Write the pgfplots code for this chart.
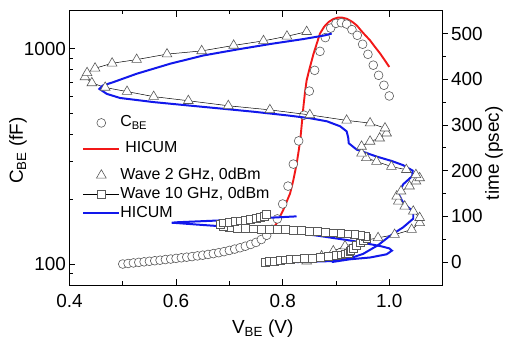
\documentclass[border=0pt]{standalone}
\usepackage{fontspec}
\setmainfont{Liberation Sans}
\usepackage{pgfplots}
\pgfplotsset{compat=1.18}

\definecolor{hicumred}{RGB}{242,24,24}
\definecolor{hicumblue}{RGB}{18,24,235}
\definecolor{markgray}{RGB}{90,90,90}

\pgfplotsset{
  leg line/.style={legend image code/.code={%
      \draw[mark repeat=2,mark phase=2,##1] plot coordinates {(0bp,0bp) (18bp,0bp) (36bp,0bp)};}},
  leg mark/.style={legend image code/.code={%
      \draw[##1] plot coordinates {(18bp,0bp)};}},
  common/.style={
    scale only axis, width=373.2bp, height=274.3bp,
    xmin=0.4, xmax=1.1,
    tick label style={font=\fontsize{19}{22}\selectfont},
    label style={font=\fontsize{19}{22}\selectfont},
    /pgf/number format/assume math mode=true,
    axis line style={line width=0.8bp},
    every tick/.style={black, line width=0.8bp},
    major tick length=6bp, minor tick length=3.5bp,
    legend cell align=left,
  },
  wavemark/.style={mark options={draw=markgray, fill=white, line width=0.6bp, solid}},
  cbemark/.style={mark=*, mark size=4.4bp, mark options={draw=markgray, fill=white, line width=0.6bp}},
  trimark/.style={mark=triangle*, mark size=5.6bp, wavemark},
  sqmark/.style={mark=square*, mark size=3.9bp, wavemark},
}

\begin{document}
\begin{tikzpicture}
% capacitance versus bias, log scale on the left
\begin{axis}[common,
  ymode=log, ymin=80, ymax=1500,
  axis y line*=left,
  xtick={0.4,0.6,0.8,1.0}, xticklabels={0.4,0.6,0.8,1.0},
  minor x tick num=1,
  ytick={100,1000}, yticklabels={100,1000},
  minor ytick={90,200,300,400,500,600,700,800,900},
  xticklabel style={yshift=-6bp},
  xlabel={V\textsubscript{BE} (V)},
  ylabel={C\textsubscript{BE} (fF)},
  xlabel style={at={(axis description cs:0.518,-0.178)}, anchor=base},
  ylabel style={at={(axis description cs:-0.138,0.49)}, anchor=center},
  legend style={draw=none, fill=none, at={(0.026,0.628)}, anchor=north west,
    font=\fontsize{16}{19}\selectfont, row sep=10bp,
    nodes={inner sep=0bp, text height=12bp, text depth=4bp}},
  /tikz/every even column/.style={column sep=4bp},
]
\coordinate (bl) at (rel axis cs:0,0);
\coordinate (tr) at (rel axis cs:1,1);

\addlegendimage{only marks, cbemark, leg mark}
\addlegendentry{C\textsubscript{BE}}
\addlegendimage{hicumred, line width=1.9bp, leg line}
\addlegendentry{\hspace{5bp}HICUM}

\addplot[forget plot, only marks, cbemark] table {
V C
0.50 100
0.51 100.6
0.52 101.2
0.53 101.8
0.54 102.4
0.55 103.0
0.56 103.6
0.57 104.2
0.58 104.9
0.59 105.5
0.60 106.2
0.61 106.9
0.62 107.6
0.63 108.3
0.64 109.1
0.65 109.9
0.66 110.8
0.67 111.8
0.68 112.9
0.69 114.2
0.70 115.7
0.71 117.3
0.72 119.0
0.73 121.0
0.74 123.3
0.75 126.0
0.76 130.0
0.77 136.0
0.78 145.0
0.79 162.0
0.80 190
0.81 230
0.82 291
0.83 373
0.84 491
0.85 635
0.86 793
0.87 971
0.88 1125
0.89 1245
0.90 1310
0.91 1320
0.92 1300
0.93 1225
0.94 1153
0.95 1048
0.96 941
0.97 838
0.98 752
0.99 676
1.00 603
};

\addplot[forget plot, hicumred, line width=1.9bp] table {
V C
0.500 100.5
0.550 102.3
0.600 105
0.650 108
0.700 113
0.726 118
0.740 121.5
0.758 127
0.768 133
0.776 139
0.789 155
0.801 178
0.814 213
0.820 245
0.826 290
0.830 335
0.833 376
0.836 450
0.839 540
0.842 630
0.845 713
0.850 800
0.858 948
0.870 1175
0.878 1265
0.886 1328
0.895 1372
0.904 1394
0.912 1392
0.920 1377
0.930 1335
0.939 1282
0.950 1190
0.964 1092
0.973 1020
0.983 948
0.992 880
1.000 822
};
\end{axis}

% large-signal waveforms against time on the right
\begin{axis}[common,
  axis x line=none, axis y line*=right,
  ymin=-50, ymax=550,
  ytick={0,100,200,300,400,500}, yticklabels={0,100,200,300,400,500},
  minor y tick num=1,
  tick align=outside,
  major tick length=5bp, minor tick length=3bp,
  ylabel={time (psec)},
  ylabel style={at={(axis description cs:1.1375,0.48)}, anchor=center},
  legend style={draw=none, fill=none, at={(0.026,0.437)}, anchor=north west,
    font=\fontsize{16}{19}\selectfont, row sep=3bp,
    nodes={inner sep=0bp, text height=12bp, text depth=4bp}},
  /tikz/every even column/.style={column sep=4bp},
]
\addlegendimage{only marks, trimark, leg mark}
\addlegendentry{Wave 2 GHz, 0dBm}
\addlegendimage{black, line width=0.5bp, sqmark, leg line}
\addlegendentry{Wave 10 GHz, 0dBm}
\addlegendimage{hicumblue, line width=2bp, leg line}
\addlegendentry{HICUM}

% 2 GHz measured waveform
\addplot[forget plot, black, line width=0.5bp, trimark] table {
V t
0.845 2
0.873 13
0.895 24
0.917 35
0.948 46
0.979 53
1.010 60
1.042 71
1.057 86
1.057 97
1.045 111
1.029 122
1.017 133
1.014 144
1.022 155
1.038 166
1.050 177
1.057 184
1.050 191
1.032 202
1.004 209
0.976 220
0.957 228
0.948 238
0.948 253
0.964 264
0.982 271
0.995 282
0.992 293
0.964 304
0.920 310
0.851 322
0.776 333
0.698 342
0.623 353
0.558 362
0.508 373
0.467 382
0.442 392
0.429 405
0.433 414
0.448 424
0.480 435
0.526 443
0.583 455
0.648 462
0.708 474
0.764 484
0.808 494
0.845 504
};

% 10 GHz measured waveform
\addplot[forget plot, black, line width=0.5bp, sqmark] table {
V t
0.767 0
0.775 1
0.785 2
0.795 4
0.805 5
0.815 6
0.826 7
0.840 8
0.855 9
0.870 10
0.885 12
0.900 14
0.910 16
0.918 18
0.923 20
0.926 23
0.928 25
0.932 30
0.938 36
0.945 42
0.952 47
0.958 52
0.955 56
0.945 58
0.935 60
0.922 62
0.908 63
0.895 64
0.880 66
0.865 67
0.850 68
0.835 69
0.820 70
0.805 71
0.790 71.5
0.775 72
0.760 72.5
0.745 73
0.730 73.5
0.715 74.5
0.700 76
0.688 79
0.683 83
0.688 86
0.700 87.5
0.710 89
0.720 90.5
0.730 92
0.740 94
0.750 96
0.758 98.5
0.765 101
0.770 104
};

% HICUM simulation, 2 GHz
\addplot[forget plot, hicumblue, line width=2bp] table {
V t
0.826 0
0.889 2
0.926 8
0.951 18
0.979 37
1.001 57
1.026 76
1.045 95
1.045 110
1.026 130
1.017 150
1.026 170
1.043 188
1.044 200
1.026 212
1.005 221
0.976 231
0.939 246
0.924 260
0.923 272
0.920 286
0.908 297
0.883 308
0.850 315
0.808 321
0.745 329
0.683 336
0.620 343
0.558 350
0.495 359
0.470 368
0.456 379
0.462 386
0.483 394
0.526 412
0.589 434
0.651 452
0.714 465
0.776 477
0.839 488
0.879 496
0.892 500
};

% HICUM simulation, 10 GHz
\addplot[forget plot, hicumblue, line width=2bp] table {
V t
0.892 0
0.926 6
0.964 10
0.995 17
1.005 25
1.000 30
0.983 35
0.933 46
0.870 57
0.826 64
0.760 71
0.700 77
0.640 82
0.600 85.5
0.592 86
0.600 87
0.640 89
0.700 92
0.760 96
0.826 100
};
\end{axis}

\path ([xshift=-69.5bp,yshift=-56bp]bl) rectangle ([xshift=63.3bp,yshift=10.7bp]tr);
\end{tikzpicture}
\end{document}
